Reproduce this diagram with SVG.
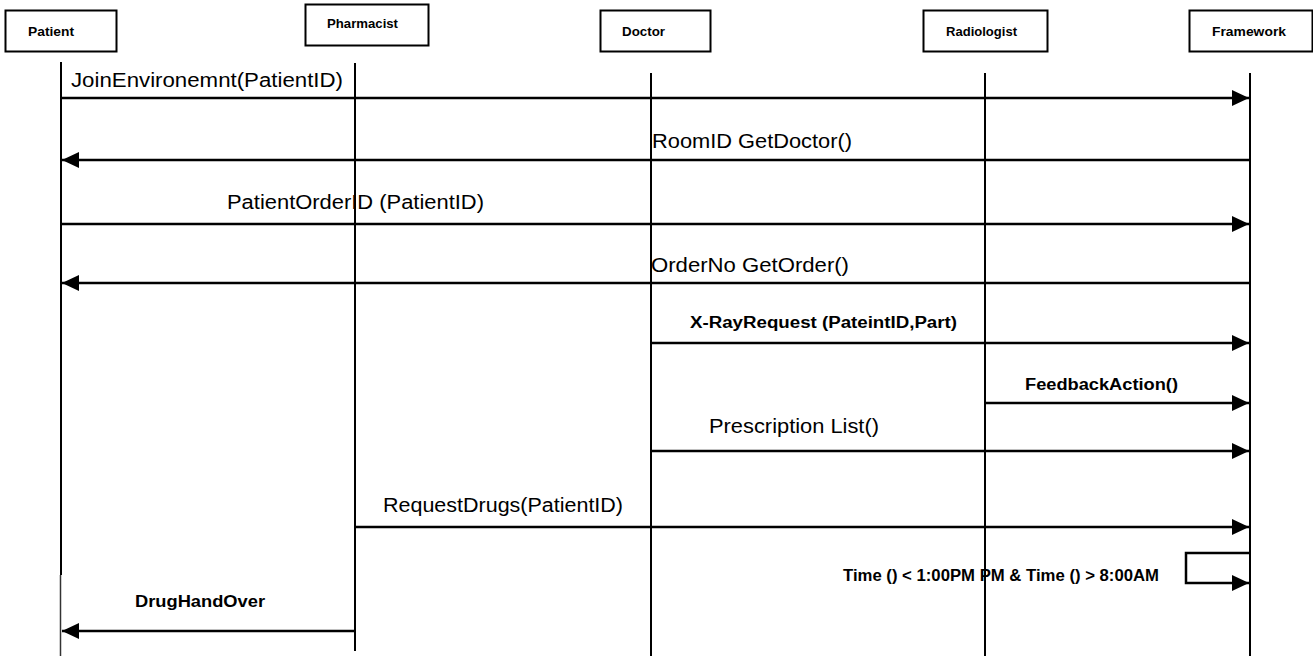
<svg xmlns="http://www.w3.org/2000/svg" width="1313" height="656" viewBox="0 0 1313 656">
<style>
.box{fill:#fff;stroke:#000;stroke-width:2}
.bl{font-family:"Liberation Sans",Arial,sans-serif;font-weight:bold;font-size:13px;fill:#000}
.life{stroke:#000;stroke-width:2;fill:none}
.msg{stroke:#000;stroke-width:2.5;fill:none;marker-end:url(#ah)}
.t{font-family:"Liberation Sans",Arial,sans-serif;font-size:20px;fill:#000}
.tb{font-family:"Liberation Sans",Arial,sans-serif;font-weight:bold;font-size:16px;fill:#000}
</style>
<defs>
<marker id="ah" markerUnits="userSpaceOnUse" markerWidth="17" markerHeight="16" refX="17" refY="8" orient="auto">
<path d="M0,0 L17,8 L0,16 Z" fill="#000"/>
</marker>
</defs>
<rect width="1313" height="656" fill="#fff"/>
<g id="patient">
<rect class="box" x="5.5" y="10.5" width="111" height="41"/>
<text class="bl" x="28" y="36" textLength="46" lengthAdjust="spacingAndGlyphs">Patient</text>
<line class="life" x1="61" y1="62" x2="61" y2="575"/>
<line x1="60.5" y1="575" x2="60.5" y2="656" stroke="#333" stroke-width="1.5"/>
</g>
<g id="pharmacist">
<rect class="box" x="305.5" y="4.5" width="123" height="41"/>
<text class="bl" x="327" y="28" textLength="71" lengthAdjust="spacingAndGlyphs">Pharmacist</text>
<line class="life" x1="355" y1="63" x2="355" y2="651"/>
</g>
<g id="doctor">
<rect class="box" x="600.5" y="10.5" width="110" height="41"/>
<text class="bl" x="622" y="36" textLength="43" lengthAdjust="spacingAndGlyphs">Doctor</text>
<line class="life" x1="651" y1="73" x2="651" y2="656"/>
</g>
<g id="radiologist">
<rect class="box" x="923.5" y="10.5" width="124" height="41"/>
<text class="bl" x="946" y="36" textLength="71" lengthAdjust="spacingAndGlyphs">Radiologist</text>
<line class="life" x1="985" y1="73" x2="985" y2="656"/>
</g>
<g id="framework">
<rect class="box" x="1189.5" y="10.5" width="123" height="41"/>
<text class="bl" x="1212" y="36" textLength="74" lengthAdjust="spacingAndGlyphs">Framework</text>
<line class="life" x1="1250" y1="73" x2="1250" y2="656"/>
</g>
<g id="connectors">
<line class="msg" x1="61" y1="98" x2="1249" y2="98"/>
<text class="t" x="71" y="87" textLength="272" lengthAdjust="spacingAndGlyphs">JoinEnvironemnt(PatientID)</text>
<line class="msg" x1="1250" y1="160" x2="62" y2="160"/>
<text class="t" x="652" y="148" textLength="200" lengthAdjust="spacingAndGlyphs">RoomID GetDoctor()</text>
<line class="msg" x1="61" y1="224" x2="1249" y2="224"/>
<text class="t" x="227" y="209" textLength="257" lengthAdjust="spacingAndGlyphs">PatientOrderID (PatientID)</text>
<line class="msg" x1="1250" y1="283" x2="62" y2="283"/>
<text class="t" x="651" y="272" textLength="198" lengthAdjust="spacingAndGlyphs">OrderNo GetOrder()</text>
<line class="msg" x1="651" y1="343" x2="1249" y2="343"/>
<text class="tb" x="690" y="328" textLength="267" lengthAdjust="spacingAndGlyphs">X-RayRequest (PateintID,Part)</text>
<line class="msg" x1="985" y1="403" x2="1249" y2="403"/>
<text class="tb" x="1025" y="390" textLength="153" lengthAdjust="spacingAndGlyphs">FeedbackAction()</text>
<line class="msg" x1="651" y1="451" x2="1249" y2="451"/>
<text class="t" x="709" y="433" textLength="170" lengthAdjust="spacingAndGlyphs">Prescription List()</text>
<line class="msg" x1="355" y1="527" x2="1249" y2="527"/>
<text class="t" x="383" y="512" textLength="240" lengthAdjust="spacingAndGlyphs">RequestDrugs(PatientID)</text>
<path class="msg" d="M1250,553 H1186 V583 H1249"/>
<text class="tb" x="843" y="581" textLength="316" lengthAdjust="spacingAndGlyphs">Time () &lt; 1:00PM PM &amp; Time () &gt; 8:00AM</text>
<line class="msg" x1="355" y1="631" x2="62" y2="631"/>
<text class="tb" x="135" y="607" textLength="130" lengthAdjust="spacingAndGlyphs">DrugHandOver</text>
</g>
</svg>
